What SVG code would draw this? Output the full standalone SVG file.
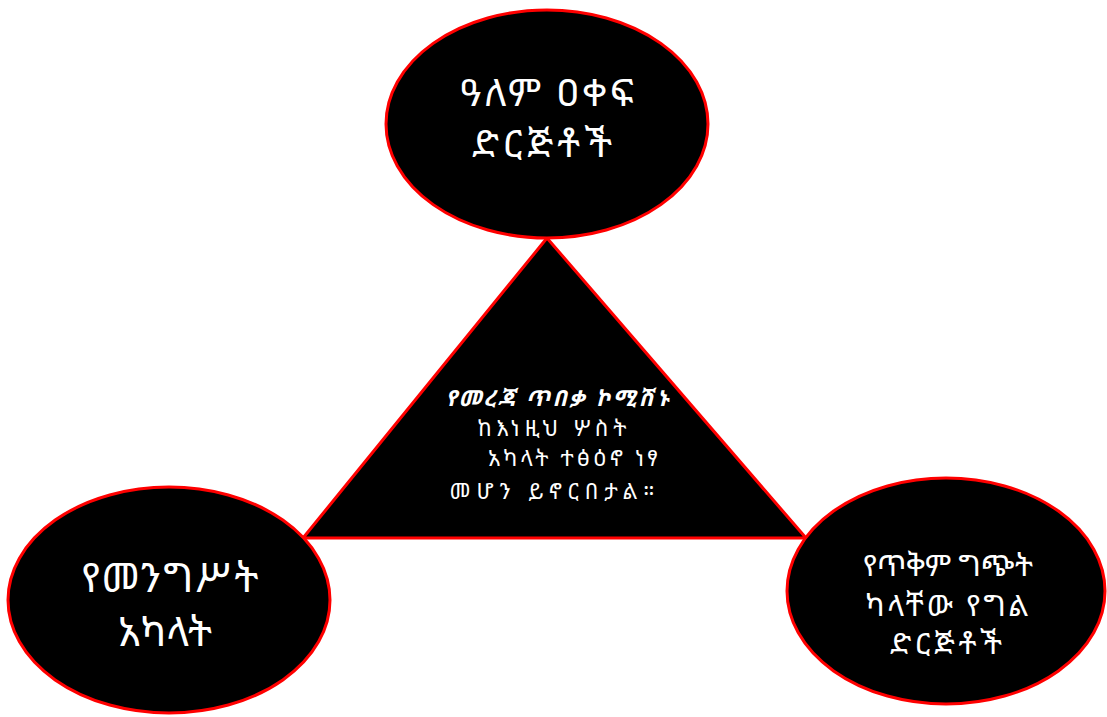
<svg xmlns="http://www.w3.org/2000/svg" width="1107" height="717" viewBox="0 0 1107 717">
<style>
.shape{fill:#000;stroke:#ff0000;stroke-width:3}
.t{fill:#fff;font-family:"Noto Sans Ethiopic","Abyssinica SIL","Noto Serif Ethiopic","Noto Sans","DejaVu Sans",sans-serif;text-anchor:middle}
</style>
<rect width="1107" height="717" fill="#fff"/>
<g id="connectors">
<polygon id="triangle" class="shape" points="547,238 303,538 806,538"/>
</g>
<g id="center-text">
<text class="t" font-size="22" font-weight="bold" font-style="italic" x="557" y="406" textLength="223">የመረጃ ጥበቃ ኮሚሽኑ</text>
<text class="t" font-size="22" x="552" y="436" textLength="149">ከእነዚህ ሦስት</text>
<text class="t" font-size="22" x="573" y="466" textLength="170">አካላት ተፅዕኖ ነፃ</text>
<text class="t" font-size="22" x="552" y="499" textLength="205">መሆን ይኖርበታል።</text>
</g>
<g id="node-top">
<ellipse class="shape" cx="547" cy="124" rx="161" ry="114"/>
<text class="t" font-size="38" x="547" y="106" textLength="173">ዓለም ዐቀፍ</text>
<text class="t" font-size="38" x="542" y="157" textLength="140">ድርጅቶች</text>
</g>
<g id="node-left">
<ellipse class="shape" cx="169" cy="600" rx="161" ry="113"/>
<text class="t" font-size="40" x="170" y="592" textLength="177">የመንግሥት</text>
<text class="t" font-size="40" x="165" y="646" textLength="94">አካላት</text>
</g>
<g id="node-right">
<ellipse class="shape" cx="946" cy="591" rx="159" ry="113"/>
<text class="t" font-size="30" x="948" y="576" textLength="170">የጥቅም ግጭት</text>
<text class="t" font-size="30" x="947" y="616" textLength="163">ካላቸው የግል</text>
<text class="t" font-size="30" x="946" y="654" textLength="112">ድርጅቶች</text>
</g>
</svg>
